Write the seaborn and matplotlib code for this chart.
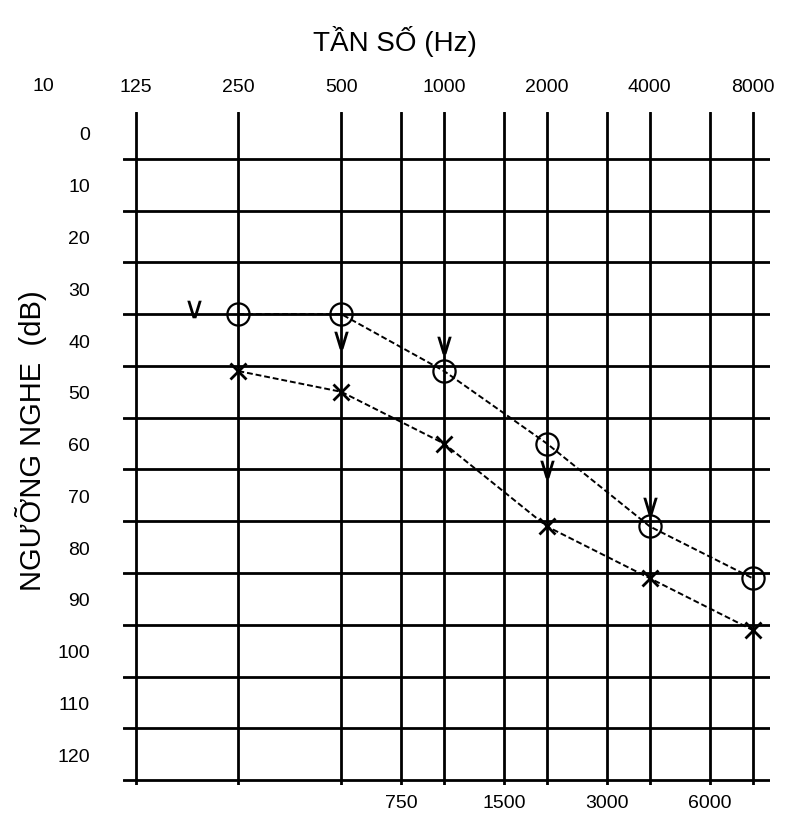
import matplotlib
matplotlib.use("Agg")
import matplotlib.pyplot as plt
import seaborn as sns
import pandas as pd
from matplotlib.ticker import FixedLocator, MultipleLocator, NullFormatter, NullLocator

# Данные аудиограммы
freq = [250, 500, 1000, 2000, 4000, 8000]
right_ear = [35, 35, 46, 60, 76, 86]      # O
left_ear = [46, 50, 60, 76, 86, 96]       # X
bone_freq = [185, 500, 1000, 2000, 4000]  # V
bone = [34, 40, 41, 65, 72]

top_ticks = [125, 250, 500, 1000, 2000, 4000, 8000]
top_labels = ["125", "250", "500", "1000", "2000", "4000", "8000"]
bottom_ticks = [750, 1500, 3000, 6000]
bottom_labels = ["750", "1500", "3000", "6000"]
db_ticks = list(range(0, 130, 10))

sns.set_style("white")
plt.rcParams['font.family'] = ['Liberation Sans', 'DejaVu Sans']
plt.rcParams['text.color'] = 'black'
plt.rcParams['xtick.color'] = 'black'
plt.rcParams['ytick.color'] = 'black'

df = pd.DataFrame({'freq': freq, 'right': right_ear, 'left': left_ear})
df_bone = pd.DataFrame({'freq': bone_freq, 'db': bone})

fig = plt.figure(figsize=(7.85, 8.2), dpi=100)
ax = fig.add_axes([0.157, 0.041, 0.824, 0.821])

sns.lineplot(x='freq', y='right', data=df, ax=ax, color='black', lw=1.4,
             linestyle=(0, (3, 1.5)), marker='o', markersize=16,
             markerfacecolor='none', markeredgecolor='black', markeredgewidth=1.6)
sns.lineplot(x='freq', y='left', data=df, ax=ax, color='black', lw=1.4,
             linestyle=(0, (3, 1.5)), marker='x', markersize=11,
             markeredgecolor='black', markeredgewidth=2)
sns.scatterplot(x='freq', y='db', data=df_bone, ax=ax, marker=r'$\vee$',
                s=160, color='black', linewidth=0)

ax.set_xscale('log', base=2)
ax.set_xlim(115, 9000)
ax.set_ylim(126, -4)

# сетка
ax.xaxis.set_major_locator(FixedLocator(bottom_ticks))
ax.set_xticklabels(bottom_labels)
ax.xaxis.set_minor_locator(FixedLocator(top_ticks))
ax.xaxis.set_minor_formatter(NullFormatter())
ax.set_yticks(db_ticks)
ax.yaxis.set_minor_locator(MultipleLocator(10, offset=5))
ax.grid(True, which='both', axis='x', color='black', lw=2)
ax.grid(True, which='minor', axis='y', color='black', lw=2)
ax.grid(False, which='major', axis='y')
ax.set_axisbelow(True)
ax.tick_params(which='both', length=0)
ax.tick_params(axis='x', labelsize=14, pad=6)
ax.tick_params(axis='y', labelsize=14, pad=24)
for s in ax.spines.values():
    s.set_visible(False)

top = ax.secondary_xaxis('top')
top.set_xticks(top_ticks)
top.set_xticklabels(top_labels)
top.xaxis.set_minor_locator(NullLocator())
top.tick_params(which='both', length=0, labelsize=14, pad=12)
top.spines['top'].set_visible(False)

ax.set_xlabel('')
ax.set_ylabel('')
fig.text(0.055, 0.895, '10', fontsize=14, ha='center', va='center')
fig.text(0.503, 0.949, 'TẦN SỐ (Hz)', fontsize=20, ha='center', va='center')
fig.text(0.04, 0.463, 'NGƯỠNG NGHE  (dB)', fontsize=21, rotation=90,
         ha='center', va='center')

plt.savefig('out.png', dpi=100)
